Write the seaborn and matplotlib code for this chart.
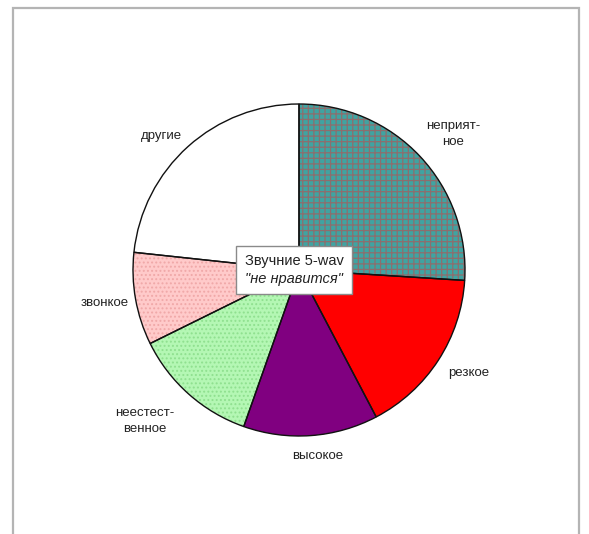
import matplotlib
matplotlib.use("Agg")
import matplotlib.pyplot as plt
import seaborn as sns
from matplotlib.patches import Rectangle
from matplotlib.offsetbox import TextArea, VPacker, AnchoredOffsetbox

# ---------------- данные ----------------
labels = ["неприят-\nное", "резкое", "высокое", "неестест-\nвенное", "звонкое", "другие"]
values = [26, 16.3, 13.1, 12.3, 9.0, 23.3]
fill_colors = ["#3fa4a2", "#ff0000", "#800080", "#b4f7b4", "#ffcaca", "#ffffff"]
hatch_colors = ["#8c6e6e", "#ff0000", "#800080", "#8fe08f", "#f0a8a8", "#ffffff"]
hatches = ["+++", None, None, "....", "....", None]

# позиции подписей (в координатах оси пирога, радиус = 1)
label_pos = [(0.93, 0.82), (1.02, -0.62), (0.11, -1.12), (-0.93, -0.91), (-1.17, -0.20), (-0.83, 0.81)]

sns.set_theme(style="white")
plt.rcParams["font.family"] = ["Liberation Sans", "DejaVu Sans"]
plt.rcParams["hatch.linewidth"] = 0.9

fig = plt.figure(figsize=(5.89, 5.34), dpi=100)
fig.patch.set_facecolor("white")

# рамка вокруг области диаграммы
fig.patches.append(Rectangle((13 / 589, -0.05), (579 - 13) / 589, 1.05 - 8 / 534,
                             transform=fig.transFigure, fill=False,
                             edgecolor="#b4b4b4", linewidth=1.6))

ax = fig.add_axes([133 / 589, 98 / 534, 332 / 589, 332 / 534])

# заливка с узором
wedges, _ = ax.pie(values, colors=fill_colors, startangle=90, counterclock=False,
                   wedgeprops=dict(linewidth=0))
for w, hc, h in zip(wedges, hatch_colors, hatches):
    w.set_edgecolor(hc)
    if h:
        w.set_hatch(h)

# контуры секторов
ax.pie(values, colors=["none"] * len(values), startangle=90, counterclock=False,
       wedgeprops=dict(linewidth=1.0, edgecolor="#111111", facecolor="none"))

ax.set_xlim(-1, 1)
ax.set_ylim(-1, 1)
ax.set_aspect("equal")
ax.axis("off")

for lab, (x, y) in zip(labels, label_pos):
    ax.text(x, y, lab, ha="center", va="center", fontsize=9.5, color="#222222",
            linespacing=1.45, clip_on=False)

# подпись в центре
t1 = TextArea("Звучние 5-wav", textprops=dict(fontsize=10.5, color="#222222"))
t2 = TextArea("\"не нравится\"", textprops=dict(fontsize=10.5, color="#222222", style="italic"))
box = VPacker(children=[t1, t2], align="center", pad=0, sep=3)
anchored = AnchoredOffsetbox(loc="center", child=box, frameon=True, pad=0.55, borderpad=0,
                             bbox_to_anchor=(-0.03, 0.0), bbox_transform=ax.transData)
anchored.patch.set_edgecolor("#8a8a8a")
anchored.patch.set_linewidth(1.0)
anchored.patch.set_boxstyle("square", pad=0)
ax.add_artist(anchored)

fig.savefig("out.png", dpi=100)
